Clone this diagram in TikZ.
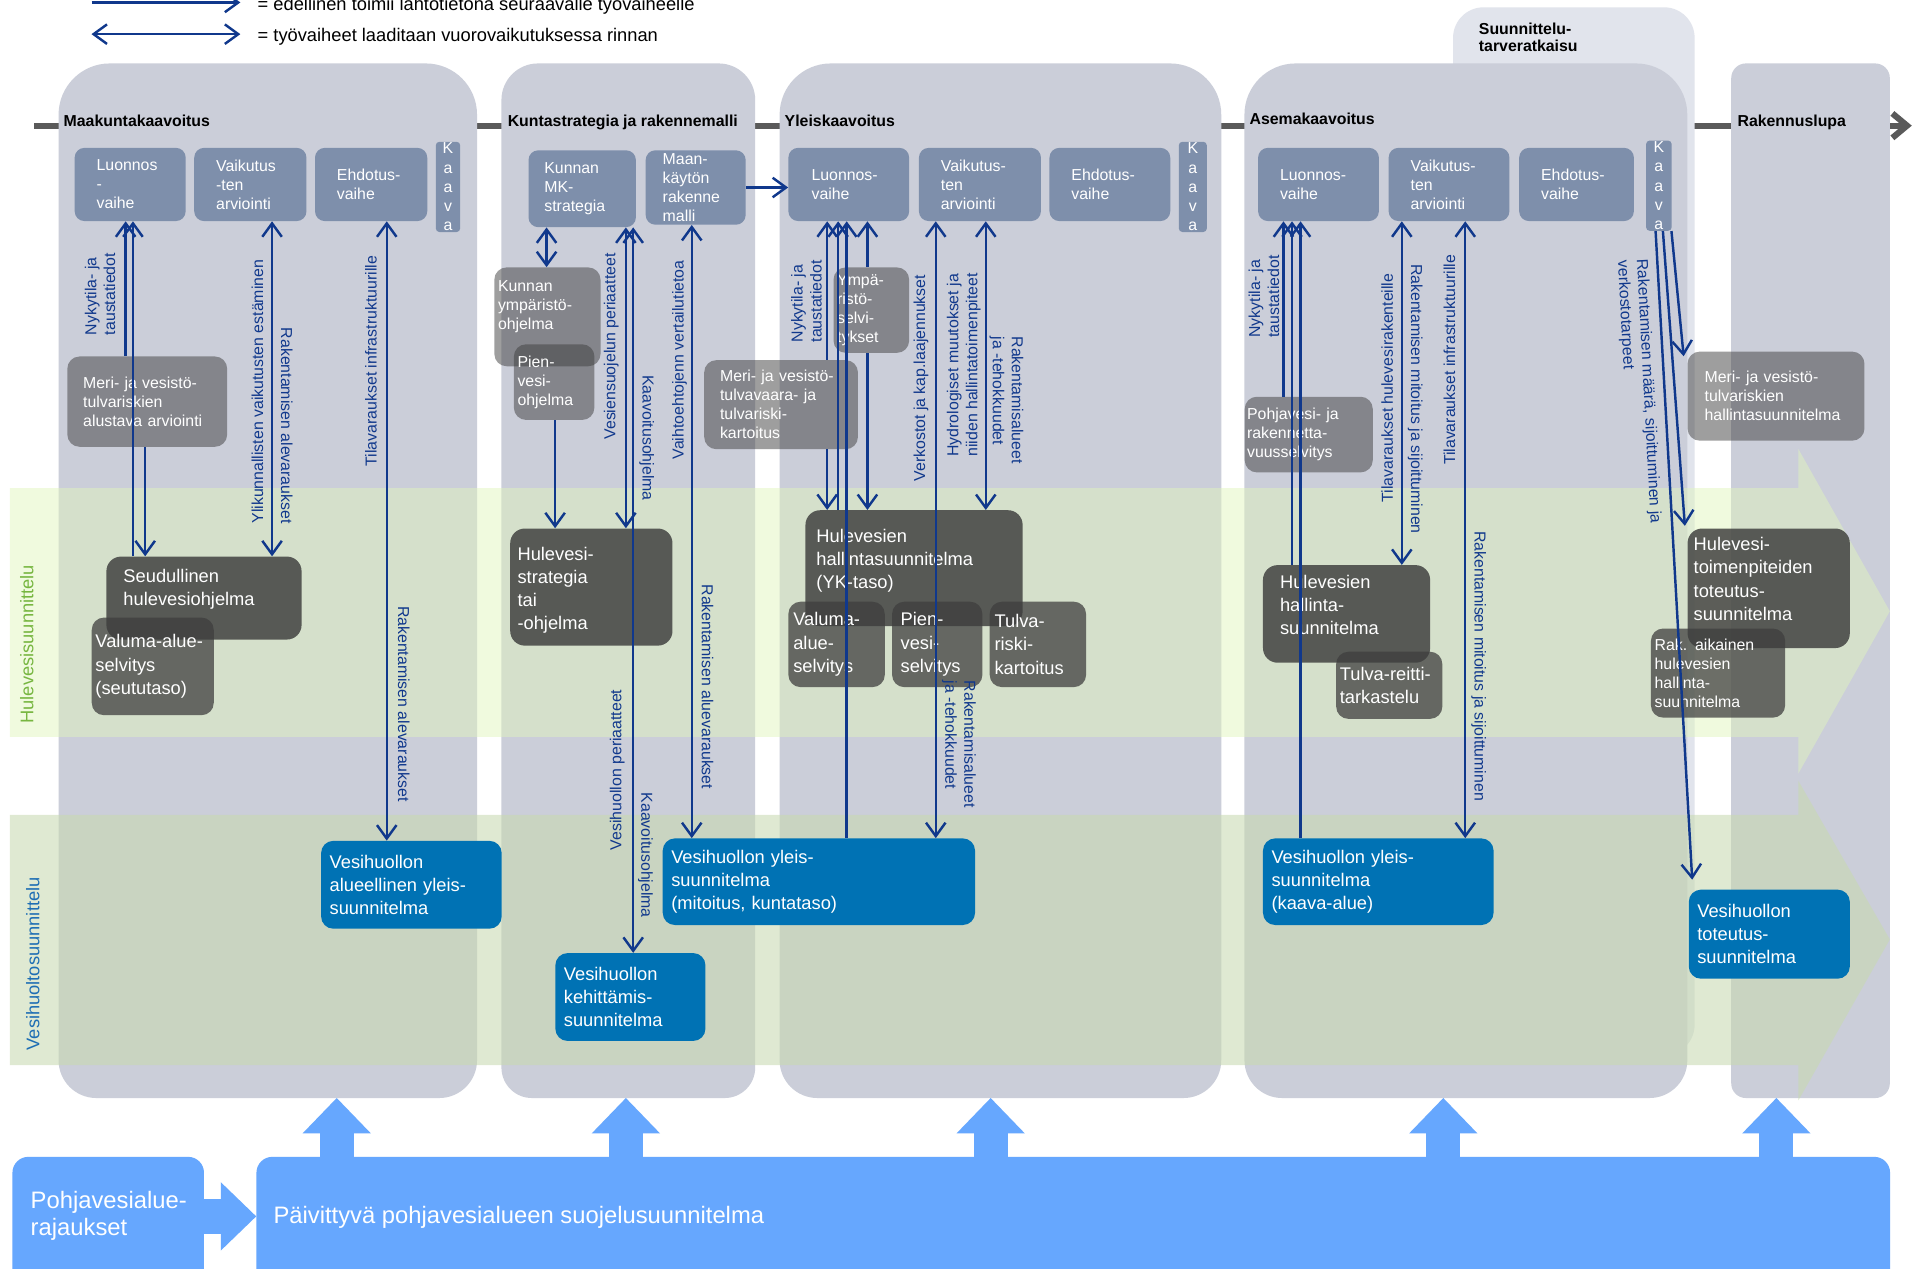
\documentclass[tikz,border=0pt]{standalone}
\usepackage{fontspec}
\setmainfont{Liberation Sans}
\usetikzlibrary{arrows.meta}

\definecolor{colbg}{RGB}{203,206,217}
\definecolor{sutbg}{RGB}{225,228,236}
\definecolor{phcol}{RGB}{126,143,171}
\definecolor{boxgray}{RGB}{62,62,62}
\definecolor{vhblue}{RGB}{0,114,180}
\definecolor{pvblue}{RGB}{102,167,254}
\definecolor{arrblue}{RGB}{16,56,140}
\definecolor{tlgray}{RGB}{90,90,90}
\definecolor{hgreen}{RGB}{224,245,188}
\definecolor{vgreen}{RGB}{200,218,176}
\definecolor{hlabel}{RGB}{119,182,64}
\definecolor{vlabel}{RGB}{30,110,180}

\begin{document}
\begin{tikzpicture}[x=1pt,y=-1pt,
    f13/.style={font=\fontsize{13}{15.5}\selectfont},
    f15/.style={font=\fontsize{15}{19}\selectfont},
    hhead/.style={anchor=base west,inner sep=0pt,font=\bfseries\fontsize{13}{14}\selectfont},
    phasebox/.style={fill=phcol,rounded corners=8pt,text=white,align=left,anchor=north west,inner ysep=0pt,minimum height=60pt,f13},
    kaavabox/.style={fill=phcol,rounded corners=3pt,text=white,align=center,anchor=north west,inner sep=0pt,minimum width=21pt,minimum height=74pt,font=\fontsize{13}{15.8}\selectfont},
    midbox/.style={fill=boxgray,fill opacity=0.5,text opacity=1,rounded corners=10pt,text=white,align=left,anchor=north west,inner ysep=0pt,f13},
    lowbox/.style={fill=boxgray,fill opacity=0.74,text opacity=1,rounded corners=10pt,text=white,align=left,anchor=north west,inner ysep=0pt,f15},
    darkbox/.style={fill=boxgray,fill opacity=0.83,rounded corners=12pt,anchor=north west,inner sep=0pt},
    vhbox/.style={fill=vhblue,rounded corners=10pt,text=white,align=left,anchor=north west,inner ysep=0pt,inner xsep=7pt,f15},
    pvbox/.style={fill=pvblue,rounded corners=13pt,anchor=north west,inner sep=0pt},
    boxtxt/.style={text=white,align=left,anchor=north west,inner sep=0pt},
    lbl/.style={text=arrblue,align=left,inner sep=0pt,f13},
    flow/.style={arrblue,line width=2pt,-{Straight Barb[length=11pt,width=16pt]}},
    biflow/.style={arrblue,line width=2pt,{Straight Barb[length=11pt,width=16pt]}-{Straight Barb[length=11pt,width=16pt]}},
    tline/.style={tlgray,line width=5pt,-{Straight Barb[length=12pt,width=20pt]}},
    blockarr/.style={pvblue,line width=28pt,-{Triangle[length=29pt,width=56pt,line width=0pt]}}]

    \useasboundingbox (0,0) rectangle (1568,1040);
    \clip (0,0) rectangle (1568,1040);
    \fill [white] (0,0) rectangle (1568,1040);

    \coordinate (lgAs) at (75,2);
    \coordinate (lgAe) at (197,2);
    \coordinate (lgBs) at (75,28);
    \coordinate (lgBe) at (197,28);
    \draw [flow] (lgAs) -- (lgAe);
    \draw [biflow] (lgBs) -- (lgBe);
    \node [anchor=base west,inner sep=0pt,f15] (lgA) at (211,9) {= edellinen toimii lähtötietona seuraavalle työvaiheelle};
    \node [anchor=base west,inner sep=0pt,f15] (lgB) at (211,34) {= työvaiheet laaditaan vuorovaikutuksessa rinnan};

    \coordinate (tlA) at (28,103);
    \coordinate (tlB) at (1567,103);
    \draw [tline] (tlA) -- (tlB);

    \fill [colbg] (48,470) [rounded corners=42pt] |- (220,52) -| (391,470) [rounded corners=31pt] |- (220,900) -| (48,470);
    \fill [colbg] (411,470) [rounded corners=30pt] |- (515,52) -| (619,470) [rounded corners=25pt] |- (515,900) -| (411,470);
    \fill [colbg] (639,470) [rounded corners=42pt] |- (820,52) -| (1001,470) [rounded corners=31pt] |- (820,900) -| (639,470);
    \fill [sutbg, rounded corners=25pt] (1191,6) rectangle (1389,865);
    \fill [colbg] (1020,470) [rounded corners=42pt] |- (1200,52) -| (1383,470) [rounded corners=31pt] |- (1200,900) -| (1020,470);
    \fill [colbg, rounded corners=12pt] (1419,52) rectangle (1549,900);

    \fill [hgreen, fill opacity=0.48] (8,400) -- (1474,400) -- (1474,368) -- (1549,501) -- (1474,634) -- (1474,604) -- (8,604) -- cycle;
    \fill [vgreen, fill opacity=0.57] (8,668) -- (1474,668) -- (1474,640) -- (1549,770) -- (1474,902) -- (1474,873) -- (8,873) -- cycle;
    \node [rotate=90,text=hlabel,inner sep=0pt,f15] (hsl) at (22,528) {Hulevesisuunnittelu};
    \node [rotate=90,text=vlabel,inner sep=0pt,f15] (vsl) at (27,790) {Vesihuoltosuunnittelu};

    \node [hhead] (h1) at (52,104) {Maakuntakaavoitus};
    \node [hhead] (h2) at (416,104) {Kuntastrategia ja rakennemalli};
    \node [hhead] (h3) at (643,104) {Yleiskaavoitus};
    \node [hhead,anchor=north west,align=left] (h4) at (1212,19) {Suunnittelu-\\tarveratkaisu};
    \node [hhead] (h5) at (1024,102) {Asemakaavoitus};
    \node [hhead] (h6) at (1424,104) {Rakennuslupa};

    \node [phasebox,inner xsep=18pt,text width=55pt] (luo1) at (61,121) {Luonnos\\-\\vaihe};
    \node [phasebox,inner xsep=18pt,text width=56pt] (vai1) at (159,121) {Vaikutus\\-ten\\arviointi};
    \node [phasebox,inner xsep=18pt,text width=56pt] (ehd1) at (258,121) {Ehdotus-\\vaihe};
    \node [kaavabox,minimum width=20pt] (kaava1) at (357,116) {K\\a\\a\\v\\a};
    \node [midbox,inner xsep=13pt,text width=105pt,minimum height=74pt] (meri1) at (55,292) {Meri- ja vesistö-\\tulvariskien\\alustava arviointi};
    \node [darkbox,minimum width=160pt,minimum height=68pt] (seud) at (87,456) {};
    \node [boxtxt,f15] (seudtxt) at (101,466.3) {Seudullinen\\hulevesiohjelma};
    \node [lowbox,inner xsep=3pt,text width=94pt,minimum height=80pt] (valu1) at (75,506) {Valuma-alue-\\selvitys\\(seututaso)};
    \node [vhbox,text width=134pt,minimum height=72pt] (vhalue) at (263,689) {Vesihuollon\\alueellinen yleis-\\suunnitelma};

    \node [phasebox,inner xsep=13pt,text width=62pt,minimum height=63pt] (mkstr) at (433,123) {Kunnan\\MK-\\strategia};
    \node [phasebox,inner xsep=14pt,text width=54pt,minimum height=61pt] (rakmalli) at (529,123) {Maan-\\käytön\\rakenne\\malli};
    \node [midbox,minimum width=87pt,minimum height=81pt,inner sep=0pt] (ymp) at (405,219) {};
    \node [boxtxt,f13] (ymptxt) at (408,230) {Kunnan\\ympäristö-\\ohjelma};
    \node [midbox,inner xsep=3pt,text width=60pt,minimum height=62pt] (pienv) at (421,282) {Pien-\\vesi-\\ohjelma};
    \node [darkbox,minimum width=133pt,minimum height=96pt] (hstr) at (418,433) {};
    \node [boxtxt,f15] (hstrtxt) at (424,448.3) {Hulevesi-\\strategia\\tai\\-ohjelma};
    \node [vhbox,text width=109pt,minimum height=72pt] (vhkeh) at (455,781) {Vesihuollon\\kehittämis-\\suunnitelma};

    \node [phasebox,inner xsep=19pt,text width=61pt] (luo3) at (646,121) {Luonnos-\\vaihe};
    \node [phasebox,inner xsep=18pt,text width=64pt] (vai3) at (753,121) {Vaikutus-\\ten\\arviointi};
    \node [phasebox,inner xsep=18pt,text width=63pt] (ehd3) at (860,121) {Ehdotus-\\vaihe};
    \node [kaavabox,minimum width=23pt] (kaava3) at (966,116) {K\\a\\a\\v\\a};
    \node [midbox,inner xsep=3pt,text width=56pt,minimum height=70pt] (ympsel) at (683,219) {Ympä-\\ristö-\\selvi-\\tykset};
    \node [midbox,inner xsep=13pt,text width=100pt,minimum height=73pt] (meri3) at (577,295) {Meri- ja vesistö-\\tulvavaara- ja\\tulvariski-\\kartoitus};
    \node [darkbox,minimum width=178pt,minimum height=95pt] (hhall3) at (660,418) {};
    \node [boxtxt,f15] (hhall3txt) at (669,433.3) {Hulevesien\\hallintasuunnitelma\\(YK-taso)};
    \node [lowbox,inner xsep=4pt,text width=71pt,minimum height=70pt] (valu3) at (646,493) {Valuma-\\alue-\\selvitys};
    \node [lowbox,inner xsep=7pt,text width=60pt,minimum height=70pt] (pien3) at (731,493) {Pien-\\vesi-\\selvitys};
    \node [lowbox,inner xsep=4pt,text width=71pt,minimum height=70pt] (tulva3) at (811,493) {Tulva-\\riski-\\kartoitus};
    \node [vhbox,text width=242pt,minimum height=71pt] (vhyleis3) at (543,687) {Vesihuollon yleis-\\suunnitelma\\(mitoitus, kuntataso)};

    \node [phasebox,inner xsep=18pt,text width=63pt] (luo5) at (1031,121) {Luonnos-\\vaihe};
    \node [phasebox,inner xsep=18pt,text width=63pt] (vai5) at (1138,121) {Vaikutus-\\ten\\arviointi};
    \node [phasebox,inner xsep=18pt,text width=58pt] (ehd5) at (1245,121) {Ehdotus-\\vaihe};
    \node [kaavabox] (kaava5) at (1349,115) {K\\a\\a\\v\\a};
    \node [midbox,inner xsep=2pt,text width=101pt,minimum height=62pt] (pohja5) at (1020,325) {Pohjavesi- ja\\rakennetta-\\vuusselvitys};
    \node [darkbox,minimum width=137pt,minimum height=80pt] (hhall5) at (1035,463) {};
    \node [boxtxt,f15] (hhall5txt) at (1049,471.3) {Hulevesien\\hallinta-\\suunnitelma};
    \node [lowbox,inner xsep=3pt,text width=81pt,minimum height=55pt] (treitti) at (1095,534) {Tulva-reitti-\\tarkastelu};
    \node [vhbox,text width=175pt,minimum height=71pt] (vhyleis5) at (1035,687) {Vesihuollon yleis-\\suunnitelma\\(kaava-alue)};

    \node [midbox,inner xsep=14pt,text width=117pt,minimum height=73pt] (meri6) at (1383,288) {Meri- ja vesistö-\\tulvariskien\\hallintasuunnitelma};
    \node [darkbox,minimum width=133pt,minimum height=98pt] (htot) at (1383,433) {};
    \node [boxtxt,f15] (htottxt) at (1388,440.3) {Hulevesi-\\toimenpiteiden\\toteutus-\\suunnitelma};
    \node [lowbox,f13,inner xsep=3pt,text width=104pt,minimum height=73pt] (rakaik) at (1353,515) {Rak. aikainen\\hulevesien\\hallinta-\\suunnitelma};
    \node [vhbox,text width=118pt,minimum height=73pt] (vhtot) at (1384,729) {Vesihuollon\\toteutus-\\suunnitelma};

    \draw [flow] (103,0 |- meri1.north) -- (103,0 |- luo1.south);
    \draw [flow] (109,0 |- seud.north) -- (109,0 |- luo1.south);
    \draw [flow] (119,0 |- meri1.south) -- (119,0 |- seud.north);
    \draw [biflow] (223,0 |- vai1.south) -- (223,0 |- seud.north);
    \draw [biflow] (317,0 |- ehd1.south) -- (317,0 |- vhalue.north);

    \draw [biflow] (448,0 |- mkstr.south) -- (448,0 |- ymp.north);
    \draw [flow] (455,0 |- pienv.south) -- (455,0 |- hstr.north);
    \draw [biflow] (513,0 |- mkstr.south) -- (513,0 |- hstr.north);
    \draw [biflow] (519,0 |- mkstr.south) -- (519,0 |- vhkeh.north);
    \draw [biflow] (567,0 |- rakmalli.south) -- (567,0 |- vhyleis3.north);
    \draw [flow] (rakmalli.east) -- (rakmalli.east -| luo3.west);

    \draw [flow] (678,0 |- meri3.north) -- (678,0 |- luo3.south);
    \draw [flow] (678,0 |- meri3.south) -- (678,0 |- hhall3.north);
    \draw [flow] (687,0 |- hhall3.north) -- (687,0 |- luo3.south);
    \draw [flow] (694,0 |- vhyleis3.north) -- (694,0 |- luo3.south);
    \draw [flow] (711,0 |- ympsel.north) -- (711,0 |- luo3.south);
    \draw [flow] (711,0 |- ympsel.south) -- (711,0 |- hhall3.north);
    \draw [biflow] (767,0 |- vai3.south) -- (767,0 |- vhyleis3.north);
    \draw [biflow] (808,0 |- vai3.south) -- (808,0 |- hhall3.north);

    \draw [flow] (1052,0 |- pohja5.north) -- (1052,0 |- luo5.south);
    \draw [flow] (1059,0 |- hhall5.north) -- (1059,0 |- luo5.south);
    \draw [flow] (1066,0 |- vhyleis5.north) -- (1066,0 |- luo5.south);
    \draw [biflow] (1149,0 |- vai5.south) -- (1149,0 |- hhall5.north);
    \draw [biflow] (1201,0 |- vai5.south) -- (1201,0 |- vhyleis5.north);
    \draw [flow] (1370,0 |- kaava5.south) -- ([shift={(-3,4)}]meri6.north west);
    \draw [flow] (1363,0 |- kaava5.south) -- ([shift={(-2,-2)}]htot.north west);
    \draw [flow] (1357,0 |- kaava5.south) -- ([shift={(3,-8)}]vhtot.north west);

    \node [lbl,rotate=90] (nyk1) at (82,241) {Nykytila- ja\\taustatiedot};
    \node [lbl,rotate=90] (ylik) at (211,321) {Ylikunnallisten vaikutusten estäminen};
    \node [lbl,rotate=-90] (ralv1) at (235,349) {Rakentamisen alevaraukset};
    \node [lbl,rotate=90] (tinf1) at (304,296) {Tilavaraukset infrastruktuurille};
    \node [lbl,rotate=-90] (ralv2) at (331,577) {Rakentamisen alevaraukset};

    \node [lbl,rotate=90] (vsper) at (501,284) {Vesiensuojelun periaatteet};
    \node [lbl,rotate=-90] (kohj1) at (530,359) {Kaavoitusohjelma};
    \node [lbl,rotate=90] (vaiht) at (557,295) {Vaihtoehtojenn vertailutietoa};
    \node [lbl,rotate=-90] (ralu) at (580,563) {Rakentamisen aluevaraukset};
    \node [lbl,rotate=90] (vhper) at (506,631) {Vesihuollon periaatteet};
    \node [lbl,rotate=-90] (kohj2) at (529,701) {Kaavoitusohjelma};

    \node [lbl,rotate=90] (nyk3) at (661,247) {Nykytila- ja\\taustatiedot};
    \node [lbl,rotate=90] (verk) at (755,310) {Verkostot ja kap.laajennukset};
    \node [lbl,rotate=90] (hydr) at (790,299) {Hydrologiset muutokset ja\\niiden hallintatoimenpiteet};
    \node [lbl,rotate=-90] (rteh1) at (825,328) {Rakentamisalueet\\ja -tehokkuudet};
    \node [lbl,rotate=-90] (rteh2) at (786,610) {Rakentamisalueet\\ja -tehokkuudet};

    \node [lbl,rotate=90] (nyk5) at (1036,243) {Nykytila- ja\\taustatiedot};
    \node [lbl,rotate=90] (thul) at (1137,318) {Tilavaraukset hulevesirakenteille};
    \node [lbl,rotate=-90] (rmit1) at (1160,327) {Rakentamisen mitoitus ja sijoittuminen};
    \node [lbl,rotate=90] (tinf5) at (1188,295) {Tilavaraukset infrastruktuurille};
    \node [lbl,rotate=-90] (rmit2) at (1212,546) {Rakentamisen mitoitus ja sijoittuminen};
    \node [lbl,rotate=-87] (rmaara) at (1343,321) {Rakentamisen määrä, sijoittuminen ja\\verkostotarpeet};

    \node [pvbox,minimum width=157pt,minimum height=112pt] (pohjaraj) at (10,948) {};
    \node [boxtxt,font=\fontsize{19.5}{22}\selectfont] (pohjatxt) at (25,976.6) {Pohjavesialue-\\rajaukset};
    \node [pvbox,minimum width=1339pt,minimum height=112pt] (paiv) at (210,948) {};
    \node [anchor=base west,inner sep=0pt,text=white,font=\fontsize{19.5}{22}\selectfont] (paivtxt) at (224,1003) {Päivittyvä pohjavesialueen suojelusuunnitelma};
    \draw [blockarr,line width=29pt] (pohjaraj.east |- 0,997) -- (paiv.west |- 0,997);

    \coordinate (mkbot) at (276,900);
    \coordinate (ksbot) at (513,900);
    \coordinate (ykbot) at (812,900);
    \coordinate (akbot) at (1183,900);
    \coordinate (rlbot) at (1456,900);
    \draw [blockarr] (mkbot |- paiv.north) -- (mkbot);
    \draw [blockarr] (ksbot |- paiv.north) -- (ksbot);
    \draw [blockarr] (ykbot |- paiv.north) -- (ykbot);
    \draw [blockarr] (akbot |- paiv.north) -- (akbot);
    \draw [blockarr] (rlbot |- paiv.north) -- (rlbot);
\end{tikzpicture}
\end{document}
